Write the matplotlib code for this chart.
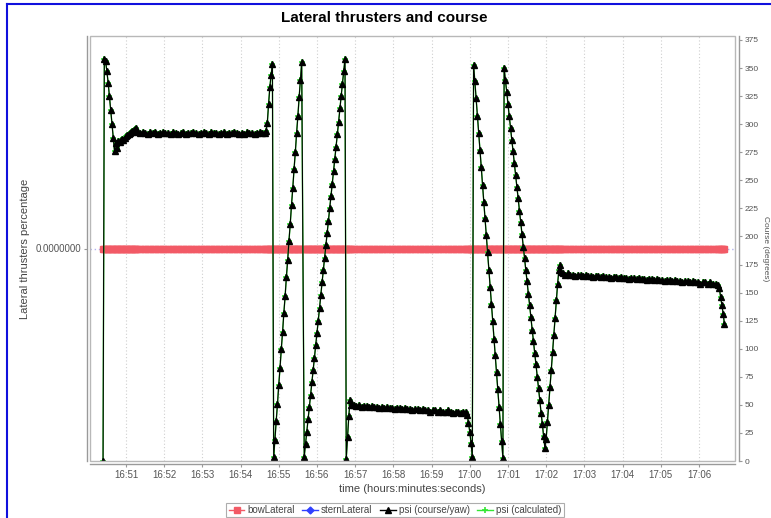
import datetime as dt
import matplotlib
matplotlib.use('Agg')
import matplotlib.pyplot as plt
import matplotlib.dates as mdates
from matplotlib import font_manager
from matplotlib.lines import Line2D
from matplotlib.patches import Rectangle

# psi samples
# start of each segment in seconds after 16:50:00 and its sample step
seg_start = [24, 82, 280, 292, 340, 406, 418, 596, 606, 654, 720, 746, 990]
seg_step = [2, 4, 2, 2, 2, 2, 4, 2, 2, 2, 2, 4, 2]

psi_a = [0, 358, 356, 347, 337, 325, 313, 300, 288, 276, 283, 279, 285, 284,
         286, 287, 286, 288, 289, 290, 291, 292, 293, 294, 295, 296, 297, 293]
psi_b = [292, 293, 292, 291, 293, 292, 293, 291, 292, 293,
         292, 292, 291, 293, 292, 291, 292, 293, 291, 292,
         292, 293, 292, 291, 292, 293, 292, 291, 293, 292,
         292, 291, 292, 293, 291, 292, 292, 293, 292, 291,
         292, 291, 293, 292, 292, 291, 292, 293, 292, 292]
psi_c = [294, 301, 318, 333, 344, 354]
psi_d = [4, 19, 36, 51, 68, 83, 100, 115, 132, 147, 164, 179, 196, 211, 228,
         243, 260, 275, 292, 307, 324, 339, 355]
psi_e = [4, 15, 26, 37, 48, 59, 70, 81, 92, 103, 114, 125, 136, 148, 159, 170,
         181, 192, 203, 214, 225, 236, 247, 258, 269, 280, 291, 302, 314, 325,
         336, 347, 358]
psi_f = [2, 21, 40, 54, 50]
psi_g = [50, 49, 50, 48, 49, 49, 48, 49, 48, 48,
         47, 48, 47, 48, 47, 47, 46, 47, 47, 46,
         47, 46, 46, 45, 46, 46, 45, 46, 45, 45,
         44, 45, 45, 44, 45, 44, 44, 45, 44, 43,
         44, 44, 43, 44, 44]
psi_h = [41, 34, 26, 16, 4]
psi_i = [353, 338, 323, 307, 292, 277, 262, 246, 231, 216, 201, 186, 170, 155,
         140, 125, 109, 94, 79, 64, 48, 33, 18, 3]
psi_j = [350, 339, 329, 318, 307, 297, 286, 276, 265, 255, 244, 234, 223, 213,
         202, 191, 181, 170, 160, 149, 139, 128, 117, 107, 96, 86, 75, 65, 54,
         43, 33, 22, 12]
psi_k = [20, 35, 50, 66, 81, 97, 112, 127, 143, 158, 170, 175, 168]
psi_l = [167, 166, 167, 166, 166, 165, 166, 166, 165, 166,
         165, 165, 164, 165, 165, 164, 165, 164, 164, 163,
         164, 164, 163, 164, 163, 163, 162, 163, 163, 162,
         163, 162, 162, 161, 162, 162, 161, 162, 161, 161,
         160, 161, 161, 160, 161, 160, 160, 159, 160, 160,
         159, 160, 159, 159, 158, 159, 159, 158, 159, 158, 158]
psi_m = [157, 154, 146, 139, 131, 122]

segments = [psi_a, psi_b, psi_c, psi_d, psi_e, psi_f, psi_g, psi_h, psi_i,
            psi_j, psi_k, psi_l, psi_m]

base = dt.datetime(2010, 1, 1, 16, 50, 0)
t = []
psi = []
for s0, st, vals in zip(seg_start, seg_step, segments):
    for i, v in enumerate(vals):
        t.append(base + dt.timedelta(seconds=s0 + st * i))
        psi.append(v)

# thrusters stay at zero the whole run
bow = [0.0] * len(t)
stern = [0.0] * len(t)

names = {f.name for f in font_manager.fontManager.ttflist}
title_font = 'Liberation Sans Narrow' if 'Liberation Sans Narrow' in names else 'Liberation Sans'
plt.rcParams['font.family'] = ['Liberation Sans', 'DejaVu Sans']

fig = plt.figure(figsize=(7.71, 5.18), dpi=100)
W, H = 771, 518
ax = fig.add_axes([90 / W, 1 - 461 / H, 645 / W, 425 / H])
ax2 = ax.twinx()

ax.axhline(0, color='#b0b0ee', lw=1, ls=(0, (1, 2)), zorder=1)
ax.plot(t, stern, color='#3040ff', lw=1, marker='D', ms=1.5, zorder=2)
ax.plot(t, bow, color='#f25a66', lw=3, marker='s', ms=4, mec='#f25a66', zorder=3)
ax.set_ylim(-1, 1)
ax.set_yticks([0])
ax.set_yticklabels(['0.0000000'])

green = '#33e633'
ax2.plot(t, psi, color=green, lw=1, marker='+', ms=4, mew=1.2, zorder=2)
ax2.plot(t, psi, color='black', lw=0.8, marker='^', ms=4.6, zorder=3)
ax2.set_ylim(0, 378.5)
ax2.set_yticks(range(0, 376, 25))

ax.set_xlim(base + dt.timedelta(seconds=3.5), base + dt.timedelta(seconds=1016.6))
ax.xaxis.set_major_locator(mdates.MinuteLocator())
ax.xaxis.set_major_formatter(mdates.DateFormatter('%H:%M'))
ax.grid(axis='x', color='#cfcfcf', lw=0.8, ls=(0, (1, 2)))

for a in (ax, ax2):
    for sp in a.spines.values():
        sp.set_visible(False)
ax.spines['left'].set_visible(True)
ax.spines['bottom'].set_visible(True)
ax2.spines['right'].set_visible(True)
ax.spines['left'].set_position(('outward', 2.2))
ax.spines['bottom'].set_position(('outward', 2.2))
ax2.spines['right'].set_position(('outward', 3))
for sp in (ax.spines['left'], ax.spines['bottom'], ax2.spines['right']):
    sp.set_color('#9a9a9a')
    sp.set_linewidth(1)
ax2.add_patch(Rectangle((0, 0), 1, 1, transform=ax2.transAxes, fill=False,
                        edgecolor='#b8b8b8', lw=1, clip_on=False, zorder=10))

ax.tick_params(axis='x', length=2, color='#999999', labelsize=7, labelcolor='#555555', pad=2)
ax.tick_params(axis='y', length=2, color='#999999', labelsize=7, labelcolor='#555555', pad=2)
ax2.tick_params(axis='y', length=2, color='#999999', labelsize=6, labelcolor='#555555', pad=2)

ax.set_xlabel('time (hours:minutes:seconds)', fontsize=8, color='#444444', labelpad=3)
ax.set_ylabel('Lateral thrusters percentage', fontsize=8, color='#444444', labelpad=4)
ax2.set_ylabel('Course (degrees)', fontsize=6, color='#555555', rotation=-90, labelpad=7)

fig.text(0.498, 1 - 18 / H, 'Lateral thrusters and course', ha='center', va='center',
         fontsize=11, fontweight='bold', family=[title_font, 'DejaVu Sans'])

handles = [
    Line2D([], [], color='#f25a66', lw=1, marker='s', ms=4, label='bowLateral'),
    Line2D([], [], color='#3040ff', lw=1, marker='D', ms=3.5, label='sternLateral'),
    Line2D([], [], color='black', lw=1, marker='^', ms=4.5, label='psi (course/yaw)'),
    Line2D([], [], color=green, lw=1, marker='+', ms=4, mew=1.2, label='psi (calculated)'),
]
leg = fig.legend(handles=handles, loc='center', bbox_to_anchor=(395 / W, 1 - 510 / H),
                 ncol=4, fontsize=7, frameon=True, fancybox=False, handlelength=1.6,
                 handletextpad=0.3, columnspacing=0.8, borderpad=0.25, borderaxespad=0)
leg.get_frame().set_edgecolor('#999999')
leg.get_frame().set_linewidth(0.8)
for txt in leg.get_texts():
    txt.set_color('#444444')

fig.add_artist(Line2D([7 / W, 7 / W], [0, 1 - 4 / H], transform=fig.transFigure,
                      color='#1010dd', lw=1.5))
fig.add_artist(Line2D([7 / W, 1], [1 - 4 / H, 1 - 4 / H], transform=fig.transFigure,
                      color='#1010dd', lw=1.5))

fig.savefig('out.png', dpi=100)
